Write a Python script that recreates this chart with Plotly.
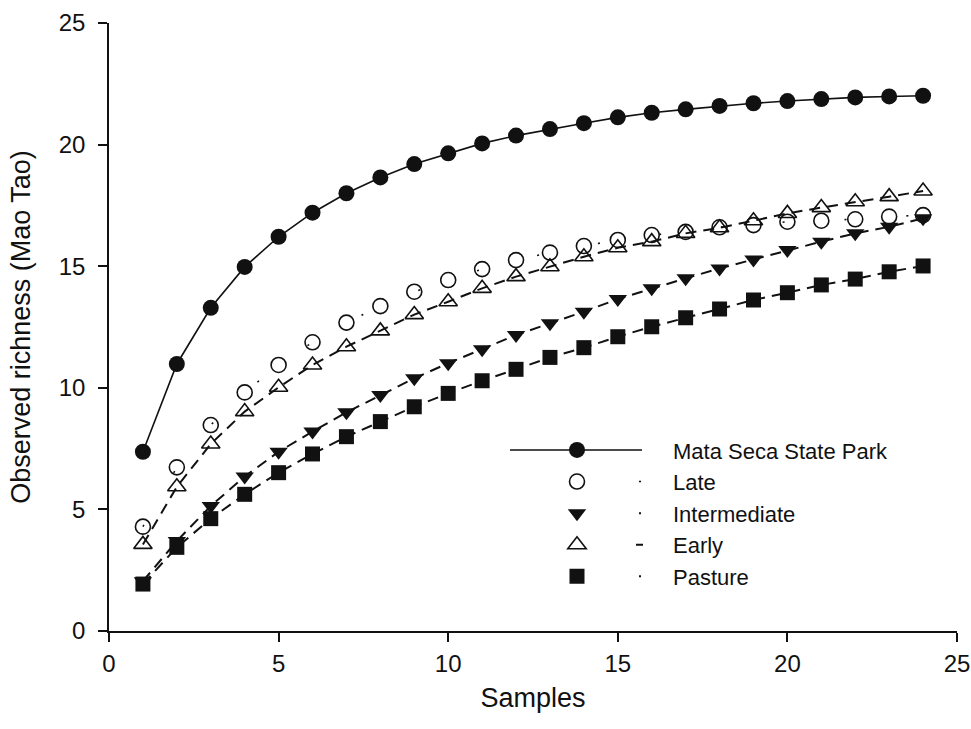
import plotly.graph_objects as go

samples = list(range(1, 25))

mata_seca = [7.37, 10.98, 13.29, 14.97, 16.21, 17.20, 18.00, 18.65, 19.20, 19.64,
             20.05, 20.37, 20.64, 20.88, 21.12, 21.31, 21.45, 21.59, 21.70, 21.79,
             21.87, 21.94, 21.98, 22.01]
late = [4.29, 6.73, 8.47, 9.81, 10.94, 11.87, 12.68, 13.36, 13.95, 14.43,
        14.88, 15.25, 15.56, 15.83, 16.08, 16.28, 16.41, 16.60, 16.69, 16.83,
        16.87, 16.93, 17.04, 17.10]
intermediate = [2.05, 3.70, 5.14, 6.35, 7.37, 8.20, 8.99, 9.70, 10.39, 11.01,
                11.58, 12.17, 12.65, 13.13, 13.65, 14.09, 14.50, 14.91, 15.28, 15.67,
                16.01, 16.35, 16.62, 16.97]
early = [3.56, 5.93, 7.69, 9.02, 10.02, 10.94, 11.69, 12.34, 13.01, 13.54,
         14.09, 14.57, 14.98, 15.39, 15.76, 16.01, 16.35, 16.58, 16.87, 17.17,
         17.41, 17.65, 17.86, 18.09]
pasture = [1.93, 3.44, 4.62, 5.62, 6.51, 7.28, 7.99, 8.61, 9.22, 9.77,
           10.29, 10.76, 11.25, 11.65, 12.10, 12.51, 12.88, 13.24, 13.61, 13.91,
           14.23, 14.47, 14.77, 15.01]

series_names = ["Mata Seca State Park", "Late", "Intermediate", "Early", "Pasture"]
x_ticks = [0, 5, 10, 15, 20, 25]
y_ticks = [0, 5, 10, 15, 20, 25]

FONT = "Liberation Sans, Arial, Helvetica, sans-serif"
INK = "#111111"

series = [
    (series_names[0], mata_seca,
     dict(color=INK, width=1.6),
     dict(symbol="circle", size=16, color=INK),
     "0px,24px,132px,600px"),
    (series_names[1], late,
     dict(color=INK, width=1.6, dash="2px,60px"),
     dict(symbol="circle-open", size=15, color=INK, line=dict(width=1.6, color=INK)),
     "0px,153px,2px,600px"),
    (series_names[2], intermediate,
     dict(color=INK, width=2, dash="11px,7px"),
     dict(symbol="triangle-down", size=16, color=INK),
     "0px,153px,2px,600px"),
    (series_names[3], early,
     dict(color=INK, width=2, dash="11px,7px"),
     dict(symbol="triangle-up-open", size=16, color=INK, line=dict(width=1.6, color=INK)),
     "0px,150px,7px,600px"),
    (series_names[4], pasture,
     dict(color=INK, width=2, dash="11px,7px"),
     dict(symbol="square", size=15, color=INK),
     "0px,153px,2px,600px"),
]

fig = go.Figure()

# data traces
for name, values, line, marker, _ in series:
    fig.add_trace(go.Scatter(
        x=samples, y=values, name=name, mode="lines+markers",
        line=line, marker=marker, showlegend=False,
    ))

# legend-only entries (styled like the original key)
for name, values, line, marker, key_dash in series:
    fig.add_trace(go.Scatter(
        x=[None], y=[None], name=name, mode="lines+markers",
        line=dict(color=INK, width=line["width"], dash=key_dash),
        marker=marker, showlegend=True,
    ))

axis_common = dict(
    showline=True, linecolor=INK, linewidth=1.6,
    ticks="outside", ticklen=9, tickwidth=1.5, tickcolor=INK,
    showgrid=False, zeroline=False, automargin=False,
    tickfont=dict(family=FONT, size=24, color=INK),
    range=[0, 25],
)

fig.update_layout(
    width=971, height=729,
    margin=dict(l=109, r=14, t=23, b=98),
    paper_bgcolor="white", plot_bgcolor="white",
    font=dict(family=FONT, color=INK),
    xaxis=dict(**axis_common, tickvals=x_ticks, ticklabelstandoff=1,
               title=dict(text="Samples", font=dict(family=FONT, size=27, color=INK), standoff=13)),
    yaxis=dict(**axis_common, tickvals=y_ticks, ticklabelstandoff=8,
               title=dict(text="Observed richness (Mao Tao)", font=dict(family=FONT, size=27, color=INK), standoff=20)),
    legend=dict(
        x=(481 - 109) / 848, y=0.332, xanchor="left", yanchor="top",
        bgcolor="rgba(0,0,0,0)", borderwidth=0,
        font=dict(family=FONT, size=22, color=INK),
        itemwidth=182, tracegroupgap=0,
    ),
    showlegend=True,
)

fig.write_html(
    "out.html",
    config={"displayModeBar": False},
    post_script="document.body.style.margin='0px';document.body.style.overflow='hidden';",
)
